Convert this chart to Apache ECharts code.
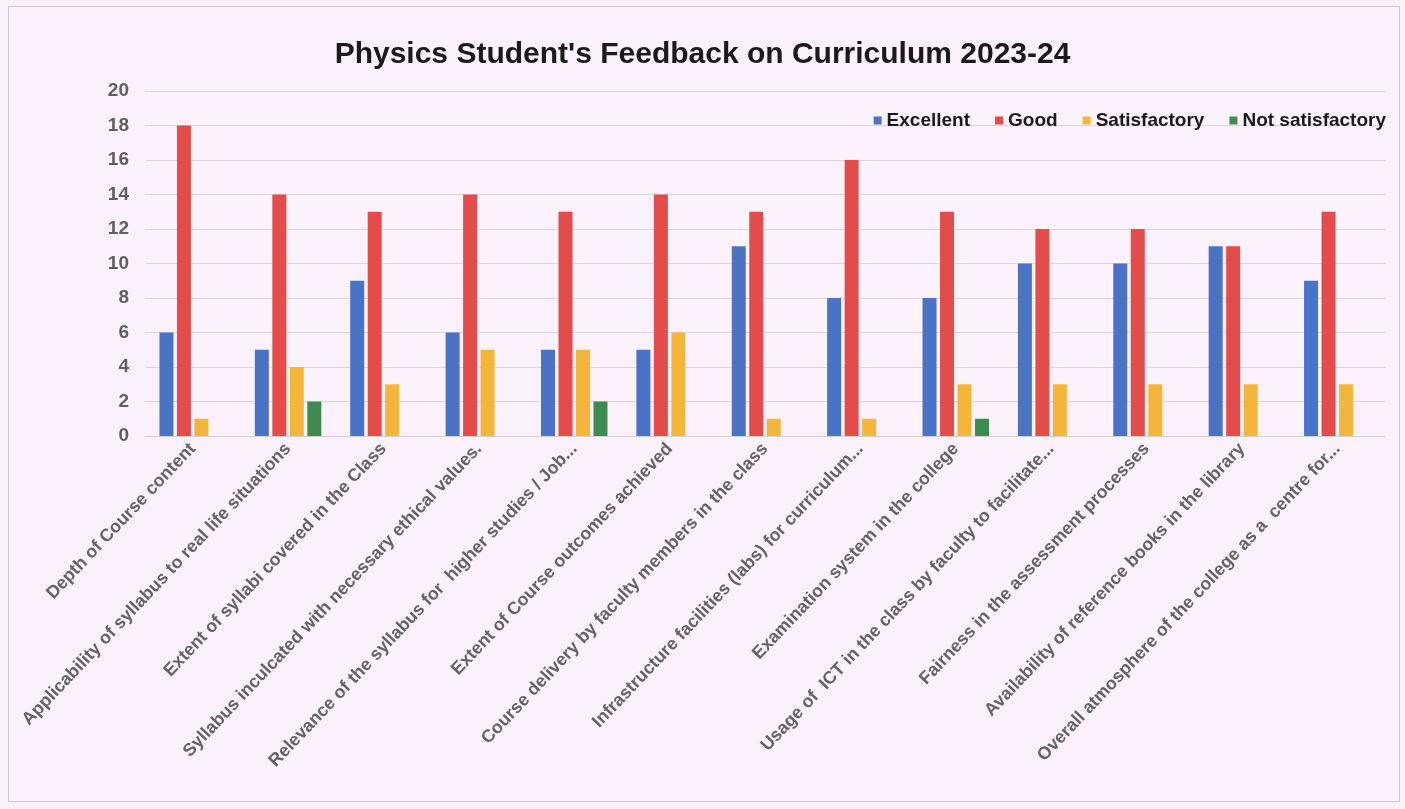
<!DOCTYPE html>
<html>
<head>
<meta charset="utf-8">
<script src="https://cdn.jsdelivr.net/npm/echarts@6/dist/echarts.min.js"></script>
<style>
  html, body { margin: 0; padding: 0; background: #fbf1fb; }
  #main { width: 1405px; height: 809px; }
  #frame { position: absolute; left: 8px; top: 6px; width: 1390px; height: 794px; border: 1px solid #cfc6cf; pointer-events: none; }
</style>
</head>
<body>
<div id="main"></div>
<div id="frame"></div>
<script>
  'use strict';

  var categories = [
    'Depth of Course content',
    'Applicability of syllabus to real life situations',
    'Extent of syllabi covered in the Class',
    'Syllabus inculcated with necessary ethical values.',
    'Relevance of the syllabus for  higher studies / Job...',
    'Extent of Course outcomes achieved',
    'Course delivery by faculty members in the class',
    'Infrastructure facilities (labs) for curriculum...',
    'Examination system in the college',
    'Usage of  ICT in the class by faculty to facilitate...',
    'Fairness in the assessment processes',
    'Availability of reference books in the library',
    'Overall atmosphere of the college as a  centre for...'
  ];

  var excellent       = [6, 5, 9, 6, 5, 5, 11, 8, 8, 10, 10, 11, 9];
  var good            = [18, 14, 13, 14, 13, 14, 13, 16, 13, 12, 12, 11, 13];
  var satisfactory    = [1, 4, 3, 5, 5, 6, 1, 1, 3, 3, 3, 3, 3];
  var notSatisfactory = [0, 2, 0, 0, 2, 0, 0, 0, 1, 0, 0, 0, 0];

  var seriesNames  = ['Excellent', 'Good', 'Satisfactory', 'Not satisfactory'];
  var seriesColors = ['#4a73c6', '#e24d4b', '#f4b63a', '#3d8b4f'];
  var seriesData   = [excellent, good, satisfactory, notSatisfactory];

  var yTicks = { min: 0, max: 20, interval: 2 };

  var sans = '"Liberation Sans", Arial, sans-serif';

  var myChart = echarts.init(document.getElementById('main'));

  var option = {
    backgroundColor: '#fbf1fb',
    title: {
      text: "Physics Student's Feedback on Curriculum 2023-24",
      left: 'center',
      top: 35,
      textStyle: {
        fontFamily: sans,
        fontSize: 30,
        fontWeight: 'bold',
        color: '#1a1a1a'
      }
    },
    legend: {
      right: 14,
      top: 106,
      itemWidth: 8,
      itemHeight: 8,
      itemGap: 25,
      icon: 'rect',
      textStyle: {
        fontFamily: sans,
        fontSize: 19,
        fontWeight: 'bold',
        color: '#1a1a1a'
      },
      data: seriesNames
    },
    grid: {
      left: 145,
      right: 20,
      top: 91,
      bottom: 373
    },
    xAxis: {
      type: 'category',
      data: categories,
      axisLine: { lineStyle: { color: '#cfcfcf' } },
      axisTick: { show: false },
      axisLabel: {
        interval: 0,
        rotate: 46.5,
        margin: 10,
        fontFamily: sans,
        fontSize: 17.8,
        fontWeight: 'bold',
        color: '#636363'
      }
    },
    yAxis: {
      type: 'value',
      min: yTicks.min,
      max: yTicks.max,
      interval: yTicks.interval,
      axisLine: { show: false },
      axisTick: { show: false },
      splitLine: { lineStyle: { color: '#dcd6dc', width: 1 } },
      axisLabel: {
        margin: 16,
        fontFamily: sans,
        fontSize: 19,
        fontWeight: 'bold',
        color: '#5f5f5f'
      }
    },
    series: seriesNames.map(function (name, i) {
      return {
        name: name,
        type: 'bar',
        data: seriesData[i],
        barWidth: 14,
        barGap: '25%',
        itemStyle: { color: seriesColors[i] }
      };
    })
  };

  myChart.setOption(option);
</script>
</body>
</html>
